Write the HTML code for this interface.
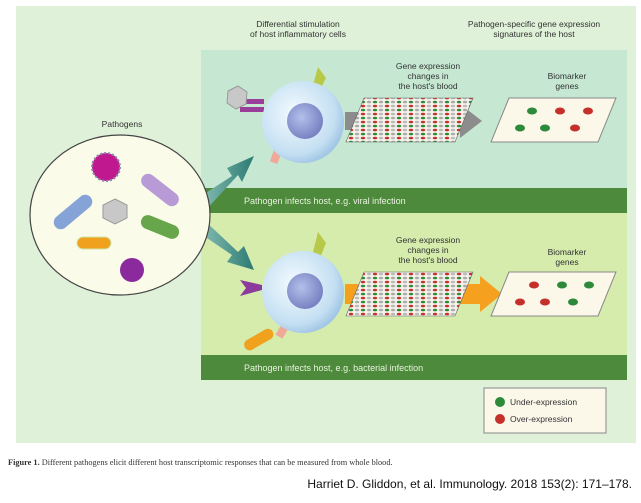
<!DOCTYPE html>
<html><head><meta charset="utf-8"><style>
body{margin:0;background:#fff;width:641px;height:498px;overflow:hidden}
text{font-family:"Liberation Sans",sans-serif}
</style></head><body>
<svg width="641" height="498" xmlns="http://www.w3.org/2000/svg">
<defs>
<radialGradient id="cell" cx="0.4" cy="0.4" r="0.7"><stop offset="0" stop-color="#f4fbff"/><stop offset="0.7" stop-color="#c4dff2"/><stop offset="1" stop-color="#8fb8df"/></radialGradient>
<radialGradient id="nuc" cx="0.4" cy="0.4" r="0.7"><stop offset="0" stop-color="#b3c0ea"/><stop offset="1" stop-color="#6f79bd"/></radialGradient>
<linearGradient id="tarr" x1="0" y1="0" x2="1" y2="0"><stop offset="0" stop-color="#8cc0b5"/><stop offset="1" stop-color="#2b7b73"/></linearGradient>
<pattern id="dots" width="12" height="8" patternUnits="userSpaceOnUse">
<rect width="12" height="8" fill="#f4f2ea"/>
<ellipse cx="3" cy="2" rx="2.2" ry="1.3" fill="#c9302a"/><ellipse cx="9" cy="2" rx="2.2" ry="1.3" fill="#bbb"/>
<ellipse cx="3" cy="6" rx="2.2" ry="1.3" fill="#2f8a3a"/><ellipse cx="9" cy="6" rx="2.2" ry="1.3" fill="#aaa"/>
</pattern>
</defs>
<rect x="16" y="6" width="620" height="437" fill="#dff1d8"/>
<rect x="201" y="50" width="426" height="138" fill="#c6e8d3"/>
<rect x="201" y="188" width="426" height="25" fill="#4e8a3c"/>
<text x="244" y="204" font-size="9" fill="#e8f3df">Pathogen infects host, e.g. viral infection</text>
<rect x="201" y="213" width="426" height="142" fill="#d5ecad"/>
<rect x="201" y="355" width="426" height="25" fill="#4e8a3c"/>
<text x="244" y="371" font-size="9" fill="#e8f3df">Pathogen infects host, e.g. bacterial infection</text>

<g font-size="8.5" fill="#333" text-anchor="middle">
<text x="298" y="27">Differential stimulation</text><text x="298" y="37">of host inflammatory cells</text>
<text x="534" y="27">Pathogen-specific gene expression</text><text x="534" y="37">signatures of the host</text>
<text x="122" y="127">Pathogens</text>
<text x="428" y="69">Gene expression</text><text x="428" y="79">changes in</text><text x="428" y="89">the host's blood</text>
<text x="567" y="79">Biomarker</text><text x="567" y="89">genes</text>
<text x="428" y="243">Gene expression</text><text x="428" y="253">changes in</text><text x="428" y="263">the host's blood</text>
<text x="567" y="255">Biomarker</text><text x="567" y="265">genes</text>
</g>

<!-- arrows from circle -->
<polygon points="198,198 232,176 227,168 254,156 242,182 238,175 204,212" fill="url(#tarr)"/>
<polygon points="198,232 232,255 227,262 254,270 244,246 238,252 204,220" fill="url(#tarr)"/>

<!-- pathogen circle -->
<ellipse cx="120" cy="215" rx="90" ry="80" fill="#fbfbea" stroke="#444" stroke-width="1.2"/>
<circle cx="106" cy="167" r="14" fill="#c0198f" stroke="#8a8aaa" stroke-width="2" stroke-dasharray="2 2"/>
<rect x="138" y="183" width="44" height="14" rx="7" fill="#b79ad6" transform="rotate(38 160 190)"/>
<rect x="50" y="205" width="46" height="14" rx="7" fill="#86a3d8" transform="rotate(-40 73 212)"/>
<polygon points="115,199 127,205 127,218 115,224 103,218 103,205" fill="#c8c8c8" stroke="#999"/>
<rect x="140" y="220" width="40" height="14" rx="7" fill="#67a64a" transform="rotate(22 160 227)"/>
<rect x="77" y="237" width="34" height="12" rx="6" fill="#f0a21e" stroke="#cfe6a8"/>
<circle cx="132" cy="270" r="12" fill="#8a2a9c"/>

<!-- top cell -->
<polygon points="318,67 326,78 320,90 313,85" fill="#b8c94a"/>
<rect x="272" y="149" width="8" height="14" fill="#f0a898" transform="rotate(20 276 156)"/>
<rect x="240" y="99" width="24" height="5" fill="#9b3d9b"/><rect x="240" y="107" width="24" height="5" fill="#9b3d9b"/>
<polygon points="228,91 238,86 247,92 246,104 236,109 227,103" fill="#c8c8c8" stroke="#999"/>
<circle cx="303" cy="122" r="41" fill="url(#cell)"/>
<circle cx="305" cy="121" r="18" fill="url(#nuc)"/>
<polygon points="345,112 460,112 460,104 482,121 460,138 460,130 345,130" fill="#8c8c8c"/>
<polygon points="364,98 473,98 455,142 346,142" fill="url(#dots)" stroke="#666" stroke-width="0.6"/>
<polygon points="509,98 616,98 598,142 491,142" fill="#fbf8ea" stroke="#888"/>
<g fill="#2d8a3a"><ellipse cx="532" cy="111" rx="5" ry="3.5"/><ellipse cx="520" cy="128" rx="5" ry="3.5"/><ellipse cx="545" cy="128" rx="5" ry="3.5"/></g>
<g fill="#c5302a"><ellipse cx="560" cy="111" rx="5" ry="3.5"/><ellipse cx="588" cy="111" rx="5" ry="3.5"/><ellipse cx="575" cy="128" rx="5" ry="3.5"/></g>

<!-- bottom cell -->
<polygon points="318,232 326,243 320,258 313,252" fill="#b8c94a"/>
<rect x="280" y="318" width="8" height="20" fill="#f0a898" transform="rotate(30 284 328)"/>
<polygon points="240,280 262,285 262,290 240,296 246,288" fill="#8c3a9c"/>
<rect x="243" y="334" width="32" height="11" rx="5.5" fill="#f0a21e" transform="rotate(-30 259 340)"/>
<circle cx="303" cy="292" r="41" fill="url(#cell)"/>
<circle cx="305" cy="291" r="18" fill="url(#nuc)"/>
<polygon points="345,284 480,284 480,276 502,294 480,312 480,304 345,304" fill="#f5a01e"/>
<polygon points="364,272 473,272 455,316 346,316" fill="url(#dots)" stroke="#666" stroke-width="0.6"/>
<polygon points="509,272 616,272 598,316 491,316" fill="#fbf8ea" stroke="#888"/>
<g fill="#c5302a"><ellipse cx="534" cy="285" rx="5" ry="3.5"/><ellipse cx="520" cy="302" rx="5" ry="3.5"/><ellipse cx="545" cy="302" rx="5" ry="3.5"/></g>
<g fill="#2d8a3a"><ellipse cx="562" cy="285" rx="5" ry="3.5"/><ellipse cx="589" cy="285" rx="5" ry="3.5"/><ellipse cx="573" cy="302" rx="5" ry="3.5"/></g>

<!-- legend -->
<rect x="484" y="388" width="122" height="45" fill="#fbf8ea" stroke="#999" stroke-width="1.2"/>
<circle cx="500" cy="402" r="5" fill="#2d8a3a"/><circle cx="500" cy="419" r="5" fill="#c5302a"/>
<text x="510" y="405" font-size="8.5" fill="#333">Under-expression</text>
<text x="510" y="422" font-size="8.5" fill="#333">Over-expression</text>

<text x="8" y="465" font-size="8.3" fill="#333" style="font-family:'Liberation Serif',serif"><tspan font-weight="bold">Figure 1.</tspan> Different pathogens elicit different host transcriptomic responses that can be measured from whole blood.</text>
<text x="632" y="488" font-size="12" text-anchor="end" fill="#111">Harriet D. Gliddon, et al. Immunology. 2018 153(2): 171–178.</text>
</svg>
</body></html>
